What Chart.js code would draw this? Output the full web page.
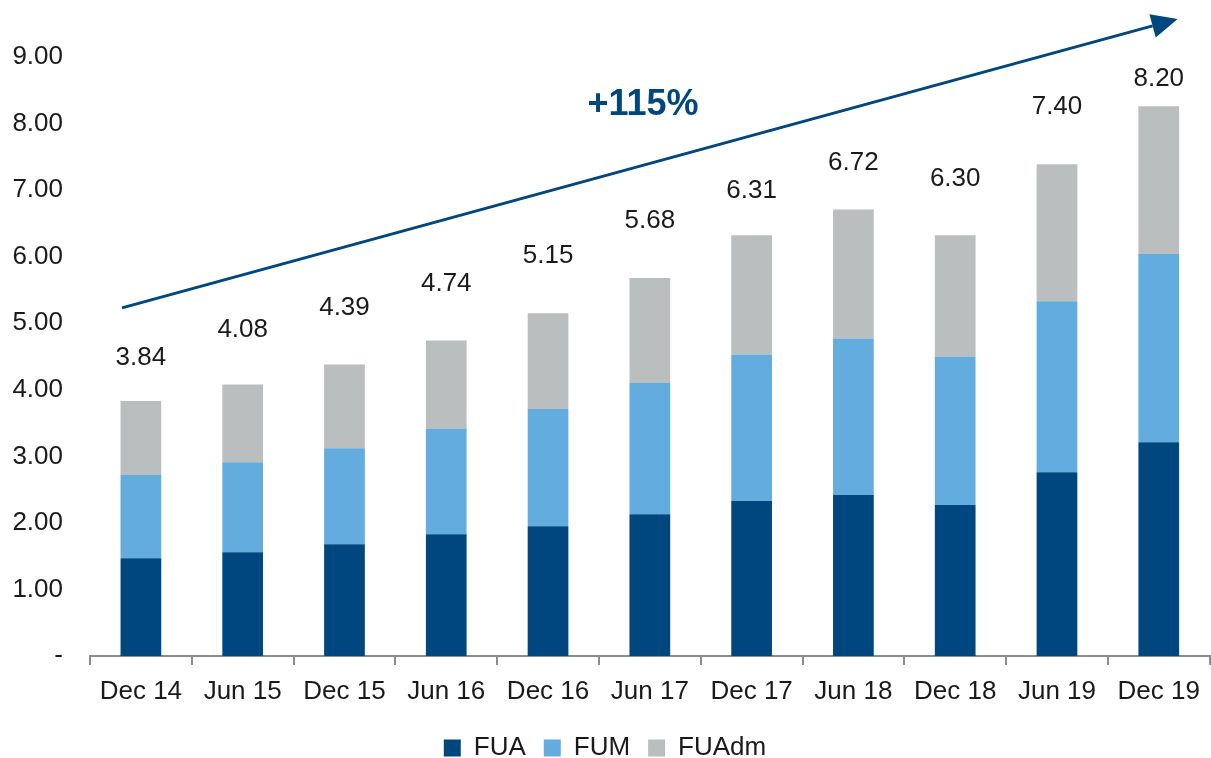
<!DOCTYPE html>
<html>
<head>
<meta charset="utf-8">
<script src="https://cdn.jsdelivr.net/npm/chart.js@4/dist/chart.umd.min.js"></script>
<style>
    html, body { margin: 0; padding: 0; background: #fff; }
    #wrap { width: 1211px; height: 758px; }
</style>
</head>
<body>
<div id="wrap"><canvas id="chart" width="1211" height="758"></canvas></div>
<script>
const periods = ["Dec 14", "Jun 15", "Dec 15", "Jun 16", "Dec 16", "Jun 17", "Dec 17", "Jun 18", "Dec 18", "Jun 19", "Dec 19"];
const fua = [1.47, 1.56, 1.68, 1.83, 1.95, 2.13, 2.33, 2.42, 2.27, 2.76, 3.21];
const fum = [1.25, 1.35, 1.44, 1.59, 1.76, 1.97, 2.20, 2.35, 2.23, 2.57, 2.83];
const fuadm = [1.11, 1.17, 1.26, 1.32, 1.44, 1.58, 1.79, 1.94, 1.82, 2.06, 2.22];
const totals = ["3.84", "4.08", "4.39", "4.74", "5.15", "5.68", "6.31", "6.72", "6.30", "7.40", "8.20"];
const growthLabel = "+115%";

const font = "'Liberation Sans', Arial, Helvetica, sans-serif";
const textColor = "#1a1a1a";

// totals above each stack + the growth arrow
const overlay = {
    id: "overlay",
    afterDatasetsDraw(chart) {
        const ctx = chart.ctx;
        const area = chart.chartArea;
        const y = chart.scales.y;
        const metaTop = chart.getDatasetMeta(2);

        // arrow geometry
        const x0 = area.left + 32, y0 = y.getPixelForValue(5.23);
        const x1 = area.right - 32, y1 = 19;
        const arrowY = (x) => y0 + (y1 - y0) * (x - x0) / (x1 - x0);

        ctx.save();
        ctx.font = "26px " + font;
        ctx.fillStyle = textColor;
        ctx.textAlign = "center";
        ctx.textBaseline = "middle";
        metaTop.data.forEach((bar, i) => {
            // keep the label clear of the arrow line
            const ly = Math.max(bar.y - 57, arrowY(bar.x) + 55);
            ctx.fillText(totals[i], bar.x, ly);
        });

        const ang = Math.atan2(y1 - y0, x1 - x0);
        const headLen = 26, headW = 12;
        const bx = x1 - headLen * Math.cos(ang), by = y1 - headLen * Math.sin(ang);
        ctx.strokeStyle = "#00477f";
        ctx.fillStyle = "#00477f";
        ctx.lineWidth = 3;
        ctx.beginPath();
        ctx.moveTo(x0, y0);
        ctx.lineTo(bx, by);
        ctx.stroke();
        ctx.beginPath();
        ctx.moveTo(x1, y1);
        ctx.lineTo(bx + headW * Math.sin(ang), by - headW * Math.cos(ang));
        ctx.lineTo(bx - headW * Math.sin(ang), by + headW * Math.cos(ang));
        ctx.closePath();
        ctx.fill();

        ctx.font = "bold 36px " + font;
        ctx.fillText(growthLabel, 643, 105);
        ctx.restore();
    },
};

const data = {
    labels: periods,
    datasets: [
        { label: "FUA", data: fua, backgroundColor: "#00477f" },
        { label: "FUM", data: fum, backgroundColor: "#63acde" },
        { label: "FUAdm", data: fuadm, backgroundColor: "#bbbebf" },
    ],
};

const config = {
    type: "bar",
    data: data,
    options: {
        responsive: false,
        animation: false,
        layout: { padding: { top: 57, right: 1, left: 0, bottom: -13 } },
        datasets: {
            bar: { barPercentage: 0.4, categoryPercentage: 1.0 },
        },
        scales: {
            x: {
                stacked: true,
                afterFit: (scale) => { scale.height = 61; },
                grid: {
                    display: true,
                    drawOnChartArea: false,
                    offset: true,
                    tickLength: 9,
                    color: "#8c8c8c",
                    lineWidth: 2,
                },
                border: { display: true, color: "#8c8c8c", width: 2 },
                ticks: {
                    color: textColor,
                    font: { family: font, size: 26 },
                    padding: 11,
                    maxRotation: 0,
                },
            },
            y: {
                stacked: true,
                min: 0,
                max: 9,
                grid: { display: false },
                border: { display: false },
                afterFit: (scale) => { scale.width = 90; },
                ticks: {
                    stepSize: 1,
                    padding: 19,
                    color: textColor,
                    font: { family: font, size: 26 },
                    callback: (v) => (v === 0 ? "-" : v.toFixed(2)),
                },
            },
        },
        plugins: {
            legend: {
                position: "bottom",
                labels: {
                    color: textColor,
                    font: { family: font, size: 26 },
                    boxWidth: 17,
                    boxHeight: 17,
                    padding: 18,
                    useBorderRadius: false,
                },
            },
            tooltip: { enabled: false },
        },
    },
    plugins: [overlay],
};

const chart = new Chart(document.getElementById("chart"), config);
</script>
</body>
</html>
